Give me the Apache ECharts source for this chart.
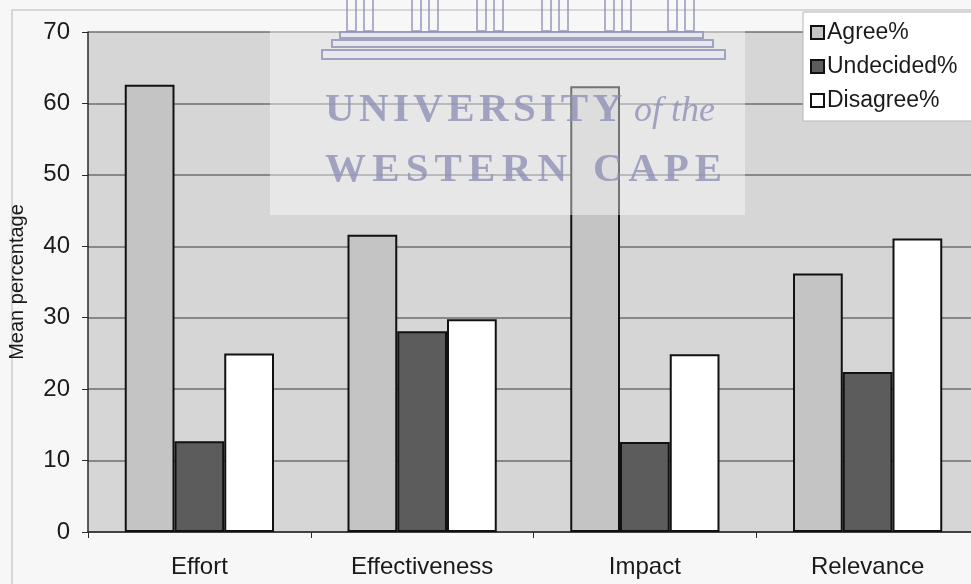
<!DOCTYPE html>
<html>
<head>
<meta charset="utf-8">
<script src="https://cdn.jsdelivr.net/npm/echarts@6/dist/echarts.min.js"></script>
<style>
  html, body { margin: 0; padding: 0; background: #f7f7f7; }
  #chart { width: 971px; height: 584px; }
</style>
</head>
<body>
<div id="chart"></div>
<script>
// Survey results: mean percentage per dimension
const categories = ['Effort', 'Effectiveness', 'Impact', 'Relevance'];
const agree = [62.6, 41.6, 62.4, 36.2];
const undecided = [12.7, 28.1, 12.6, 22.4];
const disagree = [25.0, 29.8, 24.9, 41.1];
const seriesNames = ['Agree%', 'Undecided%', 'Disagree%'];
const yMin = 0, yMax = 70, yStep = 10;

const FONT = '"Liberation Sans", Arial, sans-serif';
const SERIF = '"Liberation Serif", "DejaVu Serif", serif';
const INK = '#8f91b6';

// place letters one by one so a word fills a given width (watermark lettering)
const measureCtx = document.createElement('canvas').getContext('2d');
function spacedWord(str, font, x, yMid, width, color) {
  measureCtx.font = font;
  const widths = str.split('').map(c => measureCtx.measureText(c).width);
  const total = widths.reduce((a, b) => a + b, 0);
  const gap = str.length > 1 ? (width - total) / (str.length - 1) : 0;
  let cx = x;
  return str.split('').map((c, i) => {
    const el = {
      type: 'text', x: cx, y: yMid, z: 120, silent: true,
      style: { text: c, font: font, fill: color, textVerticalAlign: 'middle', opacity: 0.8 }
    };
    cx += widths[i] + gap;
    return el;
  });
}

// university crest: column pairs above the plot and the stepped base
const crest = [];
[347, 412, 477, 542, 605, 668].forEach(cx => {
  crest.push({ type: 'rect', z: 120, silent: true, shape: { x: cx, y: -2, width: 9, height: 33 },
    style: { fill: 'none', stroke: INK, lineWidth: 2, opacity: 0.7 } });
  crest.push({ type: 'rect', z: 120, silent: true, shape: { x: cx + 17, y: -2, width: 9, height: 33 },
    style: { fill: 'none', stroke: INK, lineWidth: 2, opacity: 0.7 } });
});
[[340, 32, 363, 6], [332, 40, 381, 7], [322, 50, 403, 9]].forEach(s => {
  crest.push({ type: 'rect', z: 120, silent: true, shape: { x: s[0], y: s[1], width: s[2], height: s[3] },
    style: { fill: 'rgba(232,232,240,0.7)', stroke: INK, lineWidth: 2, opacity: 0.8 } });
});

const chart = echarts.init(document.getElementById('chart'), null, { renderer: 'canvas' });

chart.setOption({
  backgroundColor: '#f7f7f7',
  animation: false,
  grid: {
    left: 88, top: 32, right: -8, bottom: 52,
    containLabel: false, outerBoundsMode: 'none',
    show: true, backgroundColor: '#d6d6d6', borderWidth: 0
  },
  legend: {
    orient: 'vertical',
    left: 803, top: 12,
    padding: [9, 40, 9, 7],
    itemGap: 11,
    itemWidth: 13, itemHeight: 13,
    icon: 'rect',
    backgroundColor: '#ffffff',
    borderColor: '#b5b5b5', borderWidth: 1,
    borderRadius: 0,
    textStyle: { fontFamily: FONT, fontSize: 23, color: '#1a1a1a', padding: [0, 0, 0, -2] },
    data: seriesNames
  },
  xAxis: {
    type: 'category',
    data: categories,
    axisLine: { lineStyle: { color: '#2a2a2a', width: 1.5 } },
    axisTick: { show: true, length: 6, lineStyle: { color: '#2a2a2a' } },
    axisLabel: { fontFamily: FONT, fontSize: 24, color: '#1a1a1a', margin: 23 }
  },
  yAxis: {
    type: 'value',
    min: yMin, max: yMax, interval: yStep,
    name: 'Mean percentage',
    nameLocation: 'middle',
    nameGap: 61,
    nameTextStyle: { fontFamily: FONT, fontSize: 20, color: '#1a1a1a' },
    axisLine: { show: true, lineStyle: { color: '#2a2a2a', width: 1.5 } },
    axisTick: { show: true, length: 6, lineStyle: { color: '#2a2a2a' } },
    axisLabel: { fontFamily: FONT, fontSize: 24, color: '#1a1a1a', margin: 18 },
    splitLine: { show: true, lineStyle: { color: '#6e6e6e', width: 1.5 } }
  },
  series: [
    { name: seriesNames[0], type: 'bar', data: agree, barGap: '0%', barCategoryGap: '33%',
      itemStyle: { color: '#c4c4c4', borderColor: '#111', borderWidth: 2 } },
    { name: seriesNames[1], type: 'bar', data: undecided,
      itemStyle: { color: '#5c5c5c', borderColor: '#111', borderWidth: 2 } },
    { name: seriesNames[2], type: 'bar', data: disagree,
      itemStyle: { color: '#ffffff', borderColor: '#111', borderWidth: 2 } }
  ],
  graphic: [
    // outer chart frame
    { type: 'rect', z: -1, silent: true, shape: { x: 12, y: 10, width: 1000, height: 600 },
      style: { fill: 'none', stroke: '#cdcdcd', lineWidth: 1.5 } },
    // pale panel behind the watermark
    { type: 'rect', z: 110, silent: true, shape: { x: 270, y: 30, width: 475, height: 185 },
      style: { fill: 'rgba(255,255,255,0.42)' } },
    ...crest,
    ...spacedWord('UNIVERSITY', 'bold 41px ' + SERIF, 325, 110, 297, INK),
    { type: 'text', x: 634, y: 112, z: 120, silent: true,
      style: { text: 'of the', font: 'italic 36px ' + SERIF, fill: INK, textVerticalAlign: 'middle', opacity: 0.8 } },
    ...spacedWord('WESTERN', 'bold 41px ' + SERIF, 325, 170, 242, INK),
    ...spacedWord('CAPE', 'bold 41px ' + SERIF, 593, 170, 129, INK)
  ]
});
</script>
</body>
</html>
